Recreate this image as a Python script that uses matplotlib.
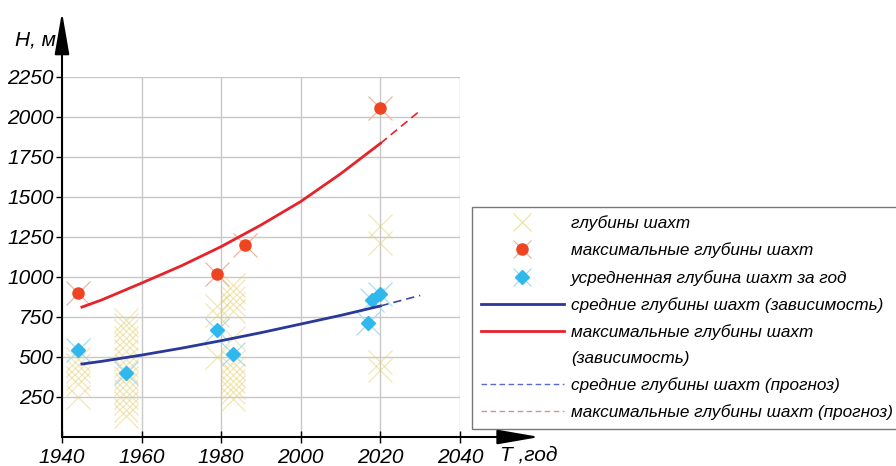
import numpy as np
import matplotlib
matplotlib.use("Agg")
import matplotlib.pyplot as plt
from matplotlib.lines import Line2D
from matplotlib.legend_handler import HandlerTuple

# mine depths (yellow crosses)
mine_years = [1944]*6 + [1956]*16 + [1979]*3 + [1983]*13 + [2020]*4
mine_depths = [490, 450, 410, 370, 330, 250,
               730, 700, 660, 620, 580, 540, 490, 450, 410, 370, 330, 290, 250, 210, 170, 130,
               820, 760, 500,
               950, 910, 870, 830, 790, 620, 470, 430, 390, 350, 310, 280, 240,
               1320, 1210, 470, 420]

# maximal depths (red points)
max_years = [1944, 1979, 1986, 2020]
max_depths = [900, 1017, 1200, 2055]

# averaged depth per year (blue diamonds)
avg_years = [1944, 1956, 1979, 1983, 2017, 2018, 2020]
avg_depths = [544, 398, 669, 517, 714, 856, 894]

# fitted curves
fit_years = [1945, 1950, 1960, 1970, 1980, 1990, 2000, 2010, 2020]
fit_avg = [456, 473, 512, 555, 602, 652, 706, 760, 819]
fit_max = [812, 857, 962, 1070, 1190, 1325, 1472, 1645, 1835]
fc_years = [2020, 2030]
fc_avg = [819, 885]
fc_max = [1835, 2040]

xticks = [1940, 1960, 1980, 2000, 2020, 2040]
yticks = [250, 500, 750, 1000, 1250, 1500, 1750, 2000, 2250]

fam = ['Liberation Sans', 'DejaVu Sans']
tick_font = dict(family=fam, style='italic', size=15)

fig = plt.figure(figsize=(8.96, 4.66), dpi=100)
ax = fig.add_axes([62/896, 1-437/466, 398/896, 360/466])
ax.set_xlim(1940, 2040)
ax.set_ylim(0, 2250)
ax.set_xticks(xticks, labels=[str(t) for t in xticks])
ax.set_yticks(yticks, labels=[str(t) for t in yticks])
for lab in ax.get_xticklabels() + ax.get_yticklabels():
    lab.set_fontfamily(fam)
    lab.set_fontstyle('italic')
    lab.set_fontsize(15)
ax.grid(True, color='#c8c8c8', lw=1)
for s in ax.spines.values():
    s.set_visible(False)
ax.tick_params(axis='x', direction='inout', length=8, width=1, pad=4)
ax.tick_params(axis='y', direction='out', length=4, width=1, pad=2)

# axes arrows
arr = dict(arrowstyle='-|>,head_length=2.6,head_width=0.45', color='k', lw=1.5,
           shrinkA=0, shrinkB=0, mutation_scale=10)
ax.annotate('', xy=(2060, 0), xytext=(1940, 0), arrowprops=arr, annotation_clip=False)
ax.annotate('', xy=(1940, 2656), xytext=(1940, 0), arrowprops=arr, annotation_clip=False)
fig.text(35/896, 1-40/466, 'H, м', ha='center', va='center', **tick_font)
fig.text(529/896, 1-455/466, 'T ,год', ha='center', va='center', **tick_font)

h_mine, = ax.plot(mine_years, mine_depths, 'x', color='#e3d070', alpha=0.5, ms=17, mew=0.9)
hx_max, = ax.plot(max_years, max_depths, 'x', color='#eab8a0', ms=17, mew=0.9)
h_max, = ax.plot(max_years, max_depths, 'o', color='#ee4422', ms=8)
hx_avg, = ax.plot(avg_years, avg_depths, 'x', color='#a8dcf0', ms=17, mew=0.9)
h_avg, = ax.plot(avg_years, avg_depths, 'D', color='#30b8ec', ms=7)

h_favg, = ax.plot(fit_years, fit_avg, color='#2a3899', lw=2)
h_fmax, = ax.plot(fit_years, fit_max, color='#e5232b', lw=2)
h_cavg, = ax.plot(fc_years, fc_avg, color='#3a48a8', lw=1.2, dashes=(5, 3))
h_cmax, = ax.plot(fc_years, fc_max, color='#e5232b', lw=1.2, dashes=(5, 3))

l_mine = Line2D([], [], marker='x', linestyle='none', color='#e3d070', alpha=0.6, ms=13, mew=0.9)
l_xmax = Line2D([], [], marker='x', linestyle='none', color='#eab8a0', ms=13, mew=0.9)
l_xavg = Line2D([], [], marker='x', linestyle='none', color='#a8dcf0', ms=13, mew=0.9)
l_cavg = Line2D([], [], color='#5a68c8', lw=1, dashes=(4, 2.5))
l_cmax = Line2D([], [], color='#d89090', lw=1, dashes=(4, 2.5))
blank = Line2D([], [], linestyle='none')

handles = [l_mine, (l_xmax, h_max), (l_xavg, h_avg), h_favg, h_fmax, blank, l_cavg, l_cmax]
labels = ['глубины шахт', 'максимальные глубины шахт', 'усредненная глубина шахт за год',
          'средние глубины шахт (зависимость)', 'максимальные глубины шахт',
          '(зависимость)', 'средние глубины шахт (прогноз)',
          'максимальные глубины шахт (прогноз)']
leg = fig.legend(handles, labels, loc='upper left', bbox_to_anchor=(472/896, 1-207/466),
                 prop=dict(family=fam, style='italic', size=12.3),
                 handler_map={tuple: HandlerTuple(ndivide=1, pad=0)},
                 handlelength=4.9, handletextpad=0.4, labelspacing=0.66,
                 frameon=True, fancybox=False, edgecolor='#555555', borderpad=0.5,
                 borderaxespad=0)
leg.get_frame().set_linewidth(1)

fig.savefig('out.png', dpi=100)
